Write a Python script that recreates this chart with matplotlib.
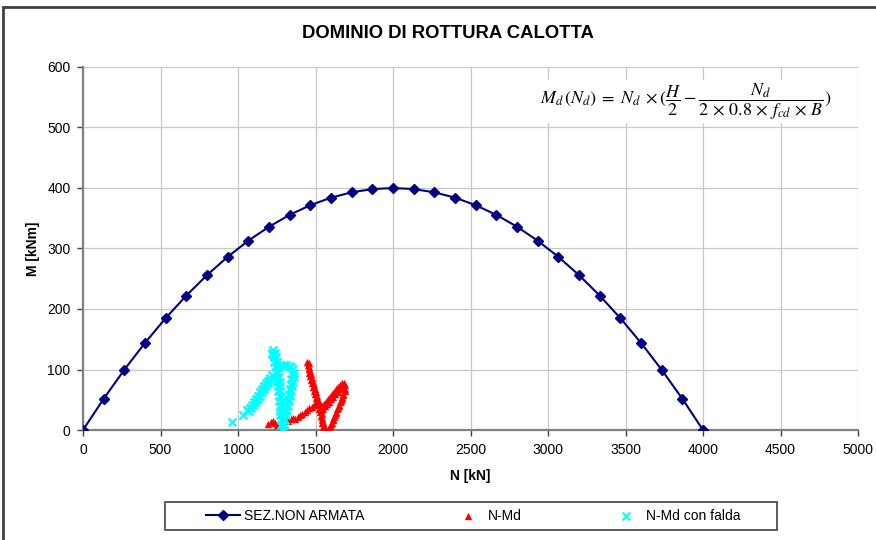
import matplotlib.pyplot as plt
import matplotlib.patches as patches

plt.rcParams['font.family'] = ['Liberation Sans', 'DejaVu Sans']
plt.rcParams['mathtext.fontset'] = 'stix'

# dominio di rottura sezione non armata
n_dom = [0, 133.3, 266.7, 400, 533.3, 666.7, 800, 933.3, 1066.7, 1200, 1333.3,
         1466.7, 1600, 1733.3, 1866.7, 2000, 2133.3, 2266.7, 2400, 2533.3, 2666.7,
         2800, 2933.3, 3066.7, 3200, 3333.3, 3466.7, 3600, 3733.3, 3866.7, 4000]
m_dom = [0, 51.6, 99.6, 144, 184.9, 222.2, 256, 286.2, 312.9, 336, 355.6,
         371.6, 384, 392.9, 398.2, 400, 398.2, 392.9, 384, 371.6, 355.6,
         336, 312.9, 286.2, 256, 222.2, 184.9, 144, 99.6, 51.6, 0]

# coppie N-Md
n_md = [1195, 1210, 1225, 1240, 1250,
        1325, 1340, 1355, 1370, 1385, 1400, 1415, 1430, 1445, 1460, 1475, 1490, 1505, 1520,
        1443, 1449, 1455, 1461, 1467, 1473, 1479, 1485, 1491, 1497, 1503, 1509, 1515, 1521,
        1527, 1533, 1539, 1545, 1551, 1556,
        1455, 1461, 1467, 1473, 1479, 1485, 1491, 1497, 1503, 1509, 1515, 1521, 1527, 1533,
        1539, 1545, 1551, 1557, 1563, 1568,
        1530, 1543, 1556, 1569, 1582, 1595, 1608, 1621, 1634, 1647, 1660, 1672,
        1538, 1551, 1564, 1577, 1590, 1603, 1616, 1629, 1642, 1655, 1668, 1680,
        1686, 1692, 1690,
        1688, 1680, 1671, 1662, 1653, 1644, 1635, 1625, 1615, 1605, 1595, 1585,
        1676, 1668, 1659, 1650, 1641, 1632, 1622, 1612, 1602, 1592, 1582]
m_md = [10, 13, 15, 12, 9,
        15, 18, 20, 19, 22, 25, 27, 30, 33, 36, 38, 41, 44, 47,
        113, 107, 101, 95, 89, 83, 77, 71, 65, 59, 53, 47, 41, 35,
        29, 23, 17, 11, 5, 0,
        110, 104, 98, 92, 86, 80, 74, 68, 62, 56, 50, 44, 38, 32,
        26, 20, 14, 8, 2, 0,
        35, 39, 43, 47, 51, 55, 59, 63, 67, 71, 75, 78,
        31, 35, 39, 43, 47, 51, 55, 59, 63, 67, 71, 75,
        78, 74, 68,
        64, 60, 54, 48, 42, 36, 30, 24, 18, 12, 6, 1,
        58, 52, 46, 40, 34, 28, 22, 16, 10, 4, 0]

# coppie N-Md con falda
n_falda = [959,
           1034, 1060, 1075, 1090, 1105, 1118, 1131, 1144, 1157, 1170, 1183, 1196, 1209, 1222,
           1070, 1085, 1100, 1113, 1126, 1139, 1152, 1165, 1178, 1191, 1204,
           1228, 1222, 1234,
           1222, 1230, 1235, 1240, 1244, 1248, 1252, 1255, 1258, 1262, 1265, 1268, 1271,
           1274, 1277, 1280, 1282,
           1238, 1246, 1251, 1256, 1260, 1264, 1268, 1271, 1274, 1278, 1281, 1284, 1287,
           1290, 1293, 1296, 1298,
           1262, 1278, 1294, 1310, 1326, 1340, 1355, 1364,
           1350, 1345, 1340, 1335, 1328, 1320, 1312, 1305, 1298, 1292,
           1360, 1356, 1351, 1345, 1338, 1330, 1322, 1315, 1308, 1300]
m_falda = [14,
           25, 33, 37, 42, 47, 52, 57, 62, 67, 72, 77, 81, 86, 91,
           32, 37, 42, 47, 52, 57, 62, 67, 72, 77, 82,
           132, 126, 124,
           128, 120, 112, 104, 96, 88, 80, 72, 64, 56, 48, 40, 32,
           24, 16, 8, 0,
           128, 120, 112, 104, 96, 88, 80, 72, 64, 56, 48, 40, 32,
           24, 16, 8, 0,
           104, 107, 108, 108, 106, 104, 101, 95,
           92, 84, 76, 68, 60, 52, 44, 36, 28, 20,
           88, 80, 72, 64, 56, 48, 40, 32, 24, 16]

fig = plt.figure(figsize=(8.76, 5.4), dpi=100)
ax = fig.add_axes([83 / 876, 1 - 430 / 540, 775 / 876, 363 / 540])

ax.plot(n_dom, m_dom, color='#000080', lw=1.5, marker='D', markersize=5.5,
        label='SEZ.NON ARMATA', zorder=3)
ax.scatter(n_md, m_md, marker='^', s=28, color='#ff0000', linewidths=0,
           label='N-Md', zorder=4)
ax.scatter(n_falda, m_falda, marker='x', s=32, color='#00ffff', linewidths=1.5,
           label='N-Md con falda', zorder=5)

ax.set_xlim(0, 5000)
ax.set_ylim(0, 600)
ax.set_xticks(range(0, 5001, 500))
ax.set_yticks(range(0, 601, 100))
ax.grid(True, color='#c8c8c8', lw=0.9)
ax.set_axisbelow(True)
for s in ['top', 'right']:
    ax.spines[s].set_visible(False)
for s in ['left', 'bottom']:
    ax.spines[s].set_color('#808080')
    ax.spines[s].set_linewidth(1.6)
ax.tick_params(labelsize=10, length=4, width=1, color='#404040', pad=5)

ax.set_xlabel('N [kN]', fontsize=10, fontweight='bold', labelpad=9)
ax.set_ylabel('M [kNm]', fontsize=10, fontweight='bold', labelpad=5)

fig.text(448 / 876, 1 - 33 / 540, 'DOMINIO DI ROTTURA CALOTTA', ha='center',
         va='center', fontsize=13.3, fontweight='bold')

ax.text(0.778, 0.905,
        r'$M_d\,(N_d)\; =\; N_d\; \times (\dfrac{H}{2} - \dfrac{N_d}{2 \,\times\, 0.8 \,\times\, f_{cd} \,\times\, B})$',
        transform=ax.transAxes, ha='center', va='center', fontsize=13,
        bbox=dict(facecolor='white', edgecolor='none', pad=1))

fig.legend(loc='center left', bbox_to_anchor=(206 / 876, 1 - 516 / 540),
           ncol=3, fontsize=10, frameon=False, borderaxespad=0, borderpad=0,
           handlelength=2.45, handletextpad=0.25, columnspacing=6.25)

# riquadro legenda e cornice del grafico
fig.patches.append(patches.Rectangle((165 / 876, 1 - 530 / 540), 612 / 876, 28 / 540,
                                     transform=fig.transFigure, fill=False,
                                     edgecolor='#404040', lw=1.2))
fig.patches.append(patches.Rectangle((3 / 876, -0.05), 1.0, 1 - 7 / 540 + 0.05,
                                     transform=fig.transFigure, fill=False,
                                     edgecolor='#404040', lw=2))

fig.savefig('out.png', dpi=100)
